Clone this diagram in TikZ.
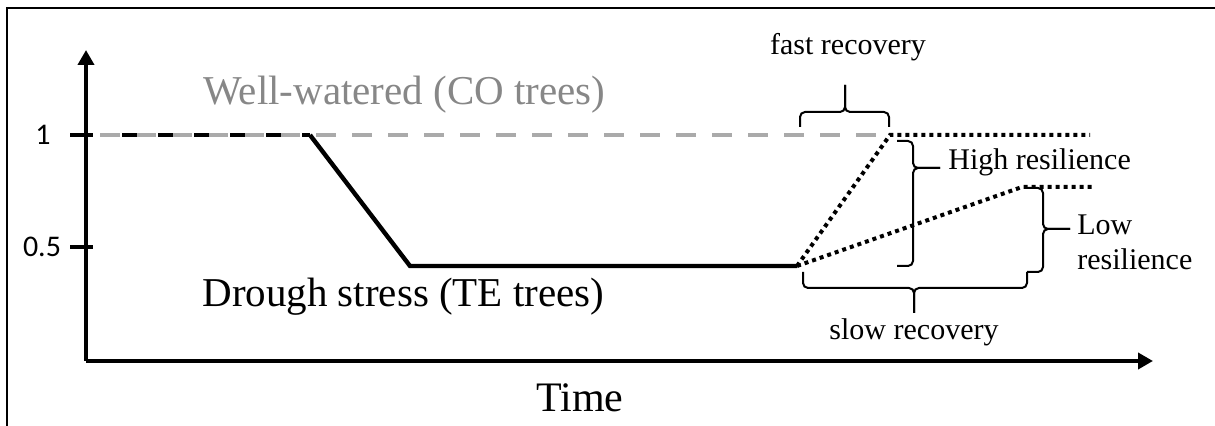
\documentclass[tikz,border=0pt]{standalone}
\usepackage{fontspec}
\setmainfont{Liberation Serif}
\newfontfamily\ticksans{Carlito}
\usetikzlibrary{arrows.meta}
\definecolor{wwtext}{RGB}{135,135,135}
\definecolor{wwline}{RGB}{170,170,170}
\begin{document}
\begin{tikzpicture}[x=0.5pt,y=-0.5pt,
  frameline/.style={line width=1pt},
  axisline/.style={line width=2pt,-{Triangle[width=8pt,length=7.5pt]}},
  tickline/.style={line width=2pt},
  wwdash/.style={line width=2.4pt,wwline,dash pattern=on 10pt off 8pt},
  tedash/.style={line width=2.4pt,black,dash pattern=on 7.5pt off 10.5pt},
  tesolid/.style={line width=2.2pt,black},
  dotline/.style={line width=2pt,dash pattern=on 2pt off 2pt},
  bracel/.style={line width=1pt,rounded corners=2.5pt},
  bigtxt/.style={inner sep=0pt,font=\fontsize{20.5}{24}\selectfont},
  smalltxt/.style={inner sep=0pt,font=\fontsize{15}{18}\selectfont},
  ticktxt/.style={inner sep=0pt,font=\ticksans\fontsize{15}{18}\selectfont}]
\useasboundingbox (0,0) rectangle (1215,426);
% frame (top and left edges)
\draw[frameline] (7,426) -- (7,8) -- (1215,8);
% axes
\coordinate (O) at (86,361);
\coordinate (ytop) at (86,50);
\coordinate (xend) at (1153,361);
\draw[axisline] (O) -- (ytop);
\draw[axisline] (O) -- (xend);
% ticks
\coordinate (t1a) at (70,135); \coordinate (t1b) at (93,135);
\coordinate (t5a) at (70,247); \coordinate (t5b) at (93,247);
\draw[tickline] (t1a) -- (t1b);
\draw[tickline] (t5a) -- (t5b);
\node[ticktxt] (lab1) at (43,135) {1};
\node[ticktxt] (lab05) at (42,247) {0.5};
% key points
\coordinate (wwA) at (100,135);
\coordinate (wwB) at (878,135);
\coordinate (teA) at (122,135);
\coordinate (drop) at (310,135);
\coordinate (low) at (410,266);
\coordinate (rec) at (797,266);
\coordinate (hiA) at (890,135);
\coordinate (hiB) at (1090,135);
\coordinate (loA) at (1022,187);
\coordinate (loB) at (1092,187);
% well-watered line
\draw[wwdash] (wwA) -- (wwB);
% drought line
\draw[tedash] (teA) -- (drop);
\draw[tesolid,line join=miter] (drop) -- (low) -- (rec);
% recovery paths
\draw[dotline] (rec) -- (hiA) -- (hiB);
\draw[dotline] (rec) -- (loA) -- (loB);
% fast recovery brace
\coordinate (fL) at (800,127); \coordinate (fR) at (889,127);
\coordinate (fM) at (845,112); \coordinate (fT) at (845,85);
\draw[bracel] (fL) |- (fM) -- (fT);
\draw[bracel] (fR) |- (fM) -- (fT);
% high resilience brace
\coordinate (hT) at (897,141); \coordinate (hB) at (897,266);
\coordinate (hM) at (913,168); \coordinate (hP) at (940,168);
\draw[bracel] (hT) -| (hM) -- (hP);
\draw[bracel] (hB) -| (hM) -- (hP);
% low resilience brace
\coordinate (lT) at (1027,188); \coordinate (lB) at (1027,272);
\coordinate (lM) at (1043,229); \coordinate (lP) at (1070,229);
\draw[bracel] (lT) -| (lM) -- (lP);
\draw[bracel] (lB) -| (lM) -- (lP);
% slow recovery brace
\coordinate (sL) at (803,272); \coordinate (sR) at (1027,272);
\coordinate (sM) at (914,288); \coordinate (sP) at (914,313);
\draw[bracel] (sL) |- (sM) -- (sP);
\draw[bracel] (sR) |- (sM) -- (sP);
% texts
\node[bigtxt,anchor=base west,text=wwtext] (wwlab) at (203,105) {Well-watered (CO trees)};
\node[bigtxt,anchor=base west] (telab) at (202,307) {Drough stress (TE trees)};
\node[inner sep=0pt,font=\fontsize{21}{25}\selectfont,anchor=base] (timelab) at (580,412) {Time};
\node[smalltxt,anchor=base] (fastlab) at (848,55) {fast recovery};
\node[smalltxt,anchor=base] (slowlab) at (914,340) {slow recovery};
\node[smalltxt,anchor=base west] (highlab) at (948,170) {High resilience};
\node[smalltxt,anchor=base west] (lowlab) at (1077,235) {Low};
\node[smalltxt,anchor=base west] (lowlabb) at (1077,270) {resilience};
\end{tikzpicture}
\end{document}
